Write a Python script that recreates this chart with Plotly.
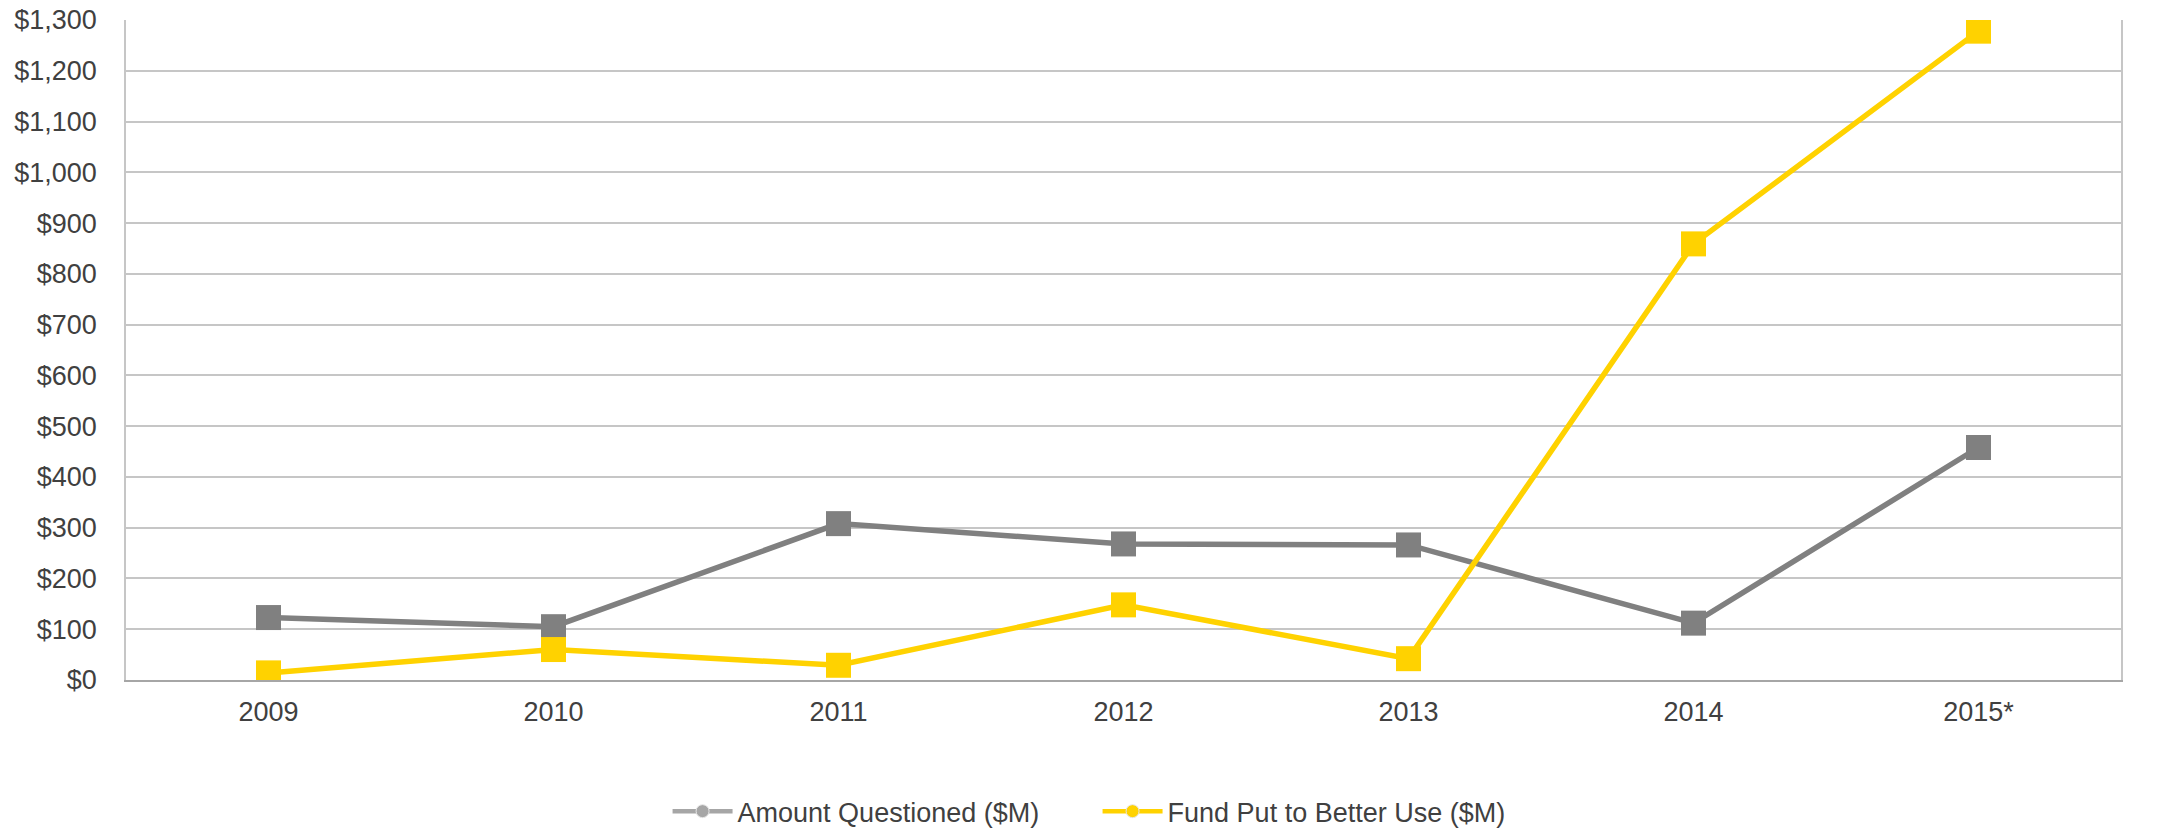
import plotly.graph_objects as go

years = ["2009", "2010", "2011", "2012", "2013", "2014", "2015*"]
amount_questioned = [123, 105, 308, 268, 266, 112, 458]
funds_better_use = [14, 60, 29, 148, 42, 859, 1278]
y_ticks = [0, 100, 200, 300, 400, 500, 600, 700, 800, 900, 1000, 1100, 1200, 1300]
y_tick_labels = ["$" + f"{v:,}" for v in y_ticks]
series_names = ["Amount Questioned ($M)", "Fund Put to Better Use ($M)"]

GRAY = "#808080"
GRAY_LEG = "#a6a6a6"
YELLOW = "#FFD200"
FONT = "Liberation Sans, Arial, sans-serif"

fig = go.Figure()

for vals, col in [(amount_questioned, GRAY), (funds_better_use, YELLOW)]:
    fig.add_trace(go.Scatter(
        x=years, y=vals, mode="lines+markers",
        line=dict(color=col, width=5.5),
        marker=dict(symbol="square", size=25, color=col),
        showlegend=False, hoverinfo="x+y",
    ))

for name, col in [(series_names[0], GRAY_LEG), (series_names[1], YELLOW)]:
    fig.add_trace(go.Scatter(
        x=[None], y=[None], mode="lines+markers", name=name,
        line=dict(color=col, width=4.5),
        marker=dict(symbol="circle", size=13, color=col,
                    line=dict(color="#e6e6e6", width=1)),
    ))

fig.update_layout(
    width=2158, height=829,
    margin=dict(l=126, r=37, t=20, b=149, autoexpand=False),
    plot_bgcolor="white", paper_bgcolor="white",
    font=dict(family=FONT, size=27, color="#404040"),
    showlegend=True,
    legend=dict(orientation="h", x=0.487, xanchor="center",
                yref="container", y=0.021, yanchor="middle",
                font=dict(family=FONT, size=27, color="#404040"),
                itemwidth=60, entrywidth=355, tracegroupgap=0),
    xaxis=dict(
        type="category", showgrid=False, showline=True,
        linecolor="#a6a6a6", linewidth=2, ticks="",
        ticklabelstandoff=7, tickfont=dict(size=27),
        range=[-0.5, 6.5], automargin=False,
    ),
    yaxis=dict(
        range=[0, 1300], tickmode="array", tickvals=y_ticks, ticktext=y_tick_labels,
        showgrid=True, gridcolor="#c6c6c6", gridwidth=1.5,
        showline=True, linecolor="#c6c6c6", linewidth=1.5, mirror=True,
        ticks="", ticklabelstandoff=22, zeroline=False,
        tickfont=dict(size=27), automargin=False,
    ),
)

fig.write_html("out.html")
